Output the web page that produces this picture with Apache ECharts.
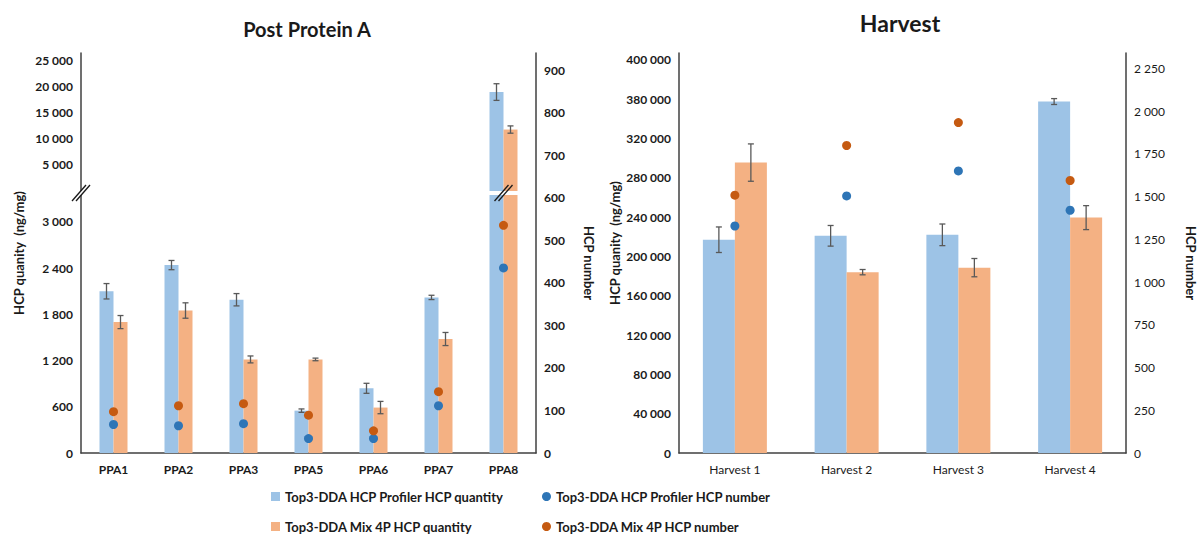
<!DOCTYPE html>
<html>
<head>
<meta charset="utf-8">
<script src="https://cdn.jsdelivr.net/npm/echarts@6.0.0/dist/echarts.min.js"></script>
<style>
    html, body { margin: 0; padding: 0; background: #fff; }
    #chart { width: 1203px; height: 540px; }
</style>
</head>
<body>
<div id="chart"></div>
<script>
// Post Protein A panel (quantities in ng/mg, numbers = HCP count)
const ppaCategories = ['PPA1', 'PPA2', 'PPA3', 'PPA5', 'PPA6', 'PPA7', 'PPA8'];
const ppaProfilerQty = [2100, 2440, 1990, 550, 840, 2020, 19000];
const ppaProfilerQtyErr = [100, 60, 80, 22, 65, 28, 1600];
const ppaMixQty = [1700, 1850, 1215, 1215, 590, 1480, 11800];
const ppaMixQtyErr = [85, 100, 45, 17, 80, 85, 700];
const ppaProfilerNum = [67, 64, 69, 34, 34, 111, 435];
const ppaMixNum = [97, 111, 116, 89, 52, 144, 535];

// Harvest panel
const harvestCategories = ['Harvest 1', 'Harvest 2', 'Harvest 3', 'Harvest 4'];
const harvestProfilerQty = [217000, 221000, 222000, 357600];
const harvestProfilerQtyErr = [13000, 10500, 11000, 3000];
const harvestMixQty = [295500, 184000, 188600, 239500];
const harvestMixQtyErr = [19000, 2700, 9300, 12200];
const harvestProfilerNum = [1328, 1504, 1650, 1420];
const harvestMixNum = [1508, 1799, 1933, 1594];

// tick labels as printed on the original (note the "380 000" label)
const harvestQtyTickLabels = ['0', '40 000', '80 000', '120 000', '160 000', '200 000',
    '240 000', '280 000', '320 000', '380 000', '400 000'];

// axis break of the left panel
const ppaLowMax = 3350;
const ppaHighMax = 26500;

const NAME_PROF_QTY = 'Top3-DDA HCP Profiler HCP quantity';
const NAME_MIX_QTY = 'Top3-DDA Mix 4P HCP quantity';
const NAME_PROF_NUM = 'Top3-DDA HCP Profiler HCP number';
const NAME_MIX_NUM = 'Top3-DDA Mix 4P HCP number';

const BLUE = '#9DC3E6';
const ORANGE = '#F4B183';
const BLUE_DOT = '#2E75B6';
const ORANGE_DOT = '#C55A11';
const AXIS = '#404040';
const FONT = 'Lato, "Open Sans", sans-serif';

function fmt(v) {
    return String(v).replace(/\B(?=(\d{3})+(?!\d))/g, ' ');
}

function errorSeries(xi, yi, values, errs, offset, keep) {
    const data = [];
    values.forEach((v, i) => {
        if (keep(v)) data.push([i, v - errs[i], v + errs[i]]);
    });
    return {
        type: 'custom',
        xAxisIndex: xi,
        yAxisIndex: yi,
        z: 5,
        silent: true,
        encode: { x: 0, y: [1, 2] },
        renderItem: (params, api) => {
            const lo = api.coord([api.value(0), api.value(1)]);
            const hi = api.coord([api.value(0), api.value(2)]);
            const x = lo[0] + offset;
            const style = { stroke: '#595959', lineWidth: 1.3, fill: null };
            return {
                type: 'group',
                children: [
                    { type: 'line', shape: { x1: x, y1: lo[1], x2: x, y2: hi[1] }, style },
                    { type: 'line', shape: { x1: x - 3, y1: lo[1], x2: x + 3, y2: lo[1] }, style },
                    { type: 'line', shape: { x1: x - 3, y1: hi[1], x2: x + 3, y2: hi[1] }, style }
                ]
            };
        },
        data
    };
}

const axisLine = { show: true, lineStyle: { color: AXIS, width: 1.5 } };
const boldLabel = { color: '#1a1a1a', fontFamily: FONT, fontWeight: 'bold', fontSize: 12 };
const nameStyle = { color: '#1a1a1a', fontFamily: FONT, fontWeight: 'bold', fontSize: 13 };
const legendText = { fontFamily: FONT, fontWeight: 'bold', fontSize: 13, color: '#1a1a1a' };

function valueAxis(extra) {
    return Object.assign({
        type: 'value',
        axisLine,
        axisTick: { show: false },
        splitLine: { show: false }
    }, extra);
}

function legendItem(name, left, top, icon) {
    return {
        left, top, padding: 0, itemWidth: 9, itemHeight: 9, icon,
        selectedMode: false, textStyle: legendText, data: [name]
    };
}

const chart = echarts.init(document.getElementById('chart'), null, { renderer: 'svg' });

const option = {
    animation: false,
    backgroundColor: '#fff',
    title: [
        { text: 'Post Protein A', left: 302, top: 14, textAlign: 'center',
          textStyle: { fontFamily: FONT, fontWeight: 'bold', fontSize: 20, color: '#1a1a1a' } },
        { text: 'Harvest', left: 895, top: 6, textAlign: 'center',
          textStyle: { fontFamily: FONT, fontWeight: 'bold', fontSize: 23, color: '#1a1a1a' } }
    ],
    legend: [
        legendItem(NAME_PROF_QTY, 271, 490, 'rect'),
        legendItem(NAME_MIX_QTY, 271, 520, 'rect'),
        legendItem(NAME_PROF_NUM, 542, 490, 'circle'),
        legendItem(NAME_MIX_NUM, 542, 520, 'circle')
    ],
    grid: [
        { left: 81, right: 667, top: 195, bottom: 87, outerBoundsMode: 'none' },
        { left: 81, right: 667, top: 53, bottom: 349, outerBoundsMode: 'none' },
        { left: 81, right: 667, top: 53, bottom: 87, outerBoundsMode: 'none' },
        { left: 679, right: 77, top: 53, bottom: 87, outerBoundsMode: 'none' }
    ],
    xAxis: [
        { type: 'category', gridIndex: 0, data: ppaCategories, axisLine,
          axisTick: { show: false }, axisLabel: Object.assign({ margin: 10 }, boldLabel) },
        { type: 'category', gridIndex: 1, data: ppaCategories, show: false },
        { type: 'category', gridIndex: 2, data: ppaCategories, show: false },
        { type: 'category', gridIndex: 3, data: harvestCategories, axisLine,
          axisTick: { show: false },
          axisLabel: { margin: 10, color: '#1a1a1a', fontFamily: FONT, fontSize: 12 } }
    ],
    yAxis: [
        valueAxis({ gridIndex: 0, min: 0, max: ppaLowMax, interval: 600,
            axisLabel: Object.assign({ formatter: v => (v % 600 ? '' : fmt(v)) }, boldLabel) }),
        valueAxis({ gridIndex: 1, min: 0, max: ppaHighMax, interval: 5000,
            axisLabel: Object.assign({ formatter: v => (v === 0 || v % 5000 ? '' : fmt(v)) }, boldLabel) }),
        valueAxis({ gridIndex: 2, position: 'left', min: 0, max: 1,
            axisLine: { show: false }, axisLabel: { show: false },
            name: 'HCP quanity  (ng/mg)', nameLocation: 'middle', nameGap: 56, nameTextStyle: nameStyle }),
        valueAxis({ gridIndex: 2, position: 'right', min: 0, max: 940, interval: 100,
            axisLabel: Object.assign({ formatter: v => (v % 100 ? '' : fmt(v)) }, boldLabel),
            name: 'HCP number', nameLocation: 'middle', nameRotate: -90, nameGap: 46,
            nameTextStyle: Object.assign({ padding: [0, 0, 0, 20] }, nameStyle) }),
        valueAxis({ gridIndex: 3, position: 'left', min: 0, max: 407000, interval: 40000,
            axisLabel: Object.assign({
                formatter: v => (v % 40000 ? '' : (harvestQtyTickLabels[v / 40000] || ''))
            }, boldLabel),
            name: 'HCP quanity  (ng/mg)', nameLocation: 'middle', nameGap: 58,
            nameTextStyle: Object.assign({ padding: [0, 0, 0, 20] }, nameStyle) }),
        valueAxis({ gridIndex: 3, position: 'right', min: 0, max: 2340, interval: 250,
            axisLabel: { formatter: v => (v % 250 ? '' : fmt(v)), color: '#1a1a1a',
                fontFamily: FONT, fontSize: 12 },
            name: 'HCP number', nameLocation: 'middle', nameRotate: -90, nameGap: 58,
            nameTextStyle: Object.assign({ padding: [0, 0, 0, 20] }, nameStyle) })
    ],
    series: [
        // Post Protein A, lower segment
        { name: NAME_PROF_QTY, type: 'bar', xAxisIndex: 0, yAxisIndex: 0, data: ppaProfilerQty,
          barWidth: 14, barGap: '0%', clip: true, itemStyle: { color: BLUE } },
        { name: NAME_MIX_QTY, type: 'bar', xAxisIndex: 0, yAxisIndex: 0, data: ppaMixQty,
          barWidth: 14, barGap: '0%', clip: true, itemStyle: { color: ORANGE } },
        errorSeries(0, 0, ppaProfilerQty, ppaProfilerQtyErr, -7, v => v <= ppaLowMax),
        errorSeries(0, 0, ppaMixQty, ppaMixQtyErr, 7, v => v <= ppaLowMax),
        // Post Protein A, upper segment (only values above the break)
        { name: NAME_PROF_QTY, type: 'bar', xAxisIndex: 1, yAxisIndex: 1,
          data: ppaProfilerQty.map(v => (v > ppaLowMax ? v : '-')),
          barWidth: 14, barGap: '0%', itemStyle: { color: BLUE } },
        { name: NAME_MIX_QTY, type: 'bar', xAxisIndex: 1, yAxisIndex: 1,
          data: ppaMixQty.map(v => (v > ppaLowMax ? v : '-')),
          barWidth: 14, barGap: '0%', itemStyle: { color: ORANGE } },
        errorSeries(1, 1, ppaProfilerQty, ppaProfilerQtyErr, -7, v => v > ppaLowMax),
        errorSeries(1, 1, ppaMixQty, ppaMixQtyErr, 7, v => v > ppaLowMax),
        // Post Protein A, HCP numbers
        { name: NAME_PROF_NUM, type: 'scatter', xAxisIndex: 2, yAxisIndex: 3, data: ppaProfilerNum,
          symbolSize: 9, z: 6, itemStyle: { color: BLUE_DOT, opacity: 1 } },
        { name: NAME_MIX_NUM, type: 'scatter', xAxisIndex: 2, yAxisIndex: 3, data: ppaMixNum,
          symbolSize: 9, z: 6, itemStyle: { color: ORANGE_DOT, opacity: 1 } },
        // Harvest
        { name: NAME_PROF_QTY, type: 'bar', xAxisIndex: 3, yAxisIndex: 4, data: harvestProfilerQty,
          barWidth: 32, barGap: '0%', itemStyle: { color: BLUE } },
        { name: NAME_MIX_QTY, type: 'bar', xAxisIndex: 3, yAxisIndex: 4, data: harvestMixQty,
          barWidth: 32, barGap: '0%', itemStyle: { color: ORANGE } },
        errorSeries(3, 4, harvestProfilerQty, harvestProfilerQtyErr, -16, () => true),
        errorSeries(3, 4, harvestMixQty, harvestMixQtyErr, 16, () => true),
        { name: NAME_PROF_NUM, type: 'scatter', xAxisIndex: 3, yAxisIndex: 5, data: harvestProfilerNum,
          symbolSize: 9, z: 6, itemStyle: { color: BLUE_DOT, opacity: 1 } },
        { name: NAME_MIX_NUM, type: 'scatter', xAxisIndex: 3, yAxisIndex: 5, data: harvestMixNum,
          symbolSize: 9, z: 6, itemStyle: { color: ORANGE_DOT, opacity: 1 } }
    ]
};

chart.setOption(option);

// break marks "//" on the left axis and across the PPA8 bars
const lowTop = chart.convertToPixel({ gridIndex: 0 }, [0, ppaLowMax])[1];
const highBottom = chart.convertToPixel({ gridIndex: 1 }, [0, 0])[1];
const breakY = (lowTop + highBottom) / 2;
const axisX = chart.convertToPixel({ gridIndex: 0 }, [0, 0])[0] - chart.getModel().getComponent('xAxis', 0).axis.getBandWidth() / 2;
const lastX = chart.convertToPixel({ gridIndex: 0 }, [ppaCategories.length - 1, 0])[0];

function breakMark(cx, cy) {
    const style = { stroke: '#1a1a1a', lineWidth: 1.3 };
    return [-2, 2].map(dx => ({
        type: 'line', z: 100,
        shape: { x1: cx - 7 + dx, y1: cy + 8, x2: cx + 7 + dx, y2: cy - 8 },
        style
    }));
}

chart.setOption({
    graphic: [
        { type: 'rect', z: 99, shape: { x: axisX - 4, y: breakY - 2, width: 8, height: 4 },
          style: { fill: '#fff' } },
        ...breakMark(axisX, breakY),
        ...breakMark(lastX, breakY)
    ]
});
</script>
</body>
</html>
